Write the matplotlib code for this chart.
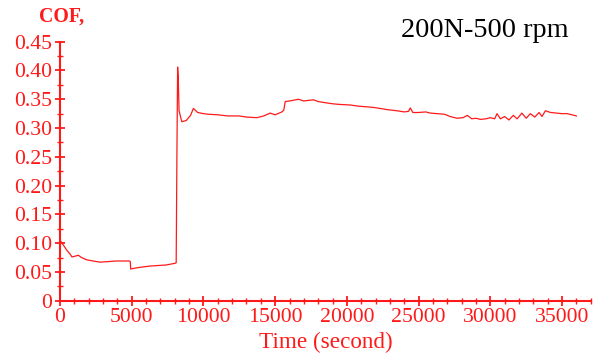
import matplotlib.pyplot as plt
from matplotlib.ticker import MultipleLocator

# Datos (tiempo en s, COF)
time_s = [0, 200, 465, 700, 840, 1000, 1280, 1500, 1860, 2300, 2790, 3400, 3950, 4500, 4840, 4900,
          4930, 5100, 5580, 6200, 6750, 7400, 8020, 8100, 8150, 8200, 8240, 8300, 8490, 8800,
          9100, 9300, 9600, 10000, 10330, 11000, 11700, 12500, 13000, 13730, 14200, 14650, 15000,
          15470, 15600, 15700, 16000, 16630, 17000, 17300, 17680, 18000, 18500, 19050, 19500,
          20240, 20800, 21300, 21800, 22330, 22800, 23500, 24000, 24300, 24420, 24600, 25000,
          25500, 25800, 26290, 26800, 27200, 27680, 28100, 28400, 28700, 29000, 29310, 29700,
          30000, 30300, 30470, 30700, 31000, 31300, 31600, 31870, 32200, 32500, 32790, 33100,
          33400, 33600, 33840, 34200, 34600, 35000, 35350, 35700, 36000]
cof = [0.105, 0.098, 0.088, 0.081, 0.076, 0.077, 0.079, 0.075, 0.071, 0.069, 0.067, 0.068, 0.069, 0.069, 0.069, 0.068,
       0.055, 0.056, 0.058, 0.060, 0.061, 0.062, 0.065, 0.066, 0.25, 0.406, 0.39, 0.33, 0.311, 0.313,
       0.322, 0.334, 0.327, 0.325, 0.324, 0.323, 0.321, 0.321, 0.319, 0.318, 0.321, 0.326, 0.323,
       0.328, 0.331, 0.346, 0.347, 0.350, 0.347, 0.348, 0.349, 0.346, 0.344, 0.342, 0.341,
       0.340, 0.338, 0.337, 0.336, 0.334, 0.332, 0.330, 0.328, 0.329, 0.335, 0.327, 0.327,
       0.328, 0.326, 0.325, 0.324, 0.320, 0.317, 0.318, 0.322, 0.316, 0.317, 0.315, 0.316,
       0.318, 0.316, 0.325, 0.316, 0.320, 0.314, 0.322, 0.316, 0.326, 0.317, 0.325, 0.319,
       0.327, 0.320, 0.330, 0.327, 0.326, 0.325, 0.325, 0.323, 0.321]

rojo = '#ff1a1a'

plt.rcParams['font.family'] = 'Liberation Serif'
fig = plt.figure(figsize=(5.97, 3.57), dpi=100)
ax = fig.add_axes([0.1005, 0.1577, 0.889, 0.7255])

ax.plot(time_s, cof, color=rojo, linewidth=0.9)

ax.set_xlim(0, 37000)
ax.set_ylim(0, 0.45)
ax.xaxis.set_minor_locator(MultipleLocator(1000))
ax.yaxis.set_minor_locator(MultipleLocator(0.025))
ax.set_xticks(range(0, 36000, 5000))
ax.set_yticks([i * 0.05 for i in range(10)])
ax.set_yticklabels(['0'] + ['%.2f' % (i * 0.05) for i in range(1, 10)])

for s in ['top', 'right']:
    ax.spines[s].set_visible(False)
for s in ['left', 'bottom']:
    ax.spines[s].set_color(rojo)
    ax.spines[s].set_linewidth(1.5)

ax.tick_params(which='major', direction='inout', length=7, width=1.3, colors=rojo, labelsize=15.7, pad=2)
ax.tick_params(which='minor', direction='inout', length=4, width=1, colors=rojo)

ax.set_xlabel('Time (second)', color=rojo, fontsize=16.7, labelpad=3)
fig.text(61.5 / 597, 1 - 21.7 / 357, 'COF,', color=rojo, fontsize=14.3, fontweight='bold', ha='center', va='baseline')
fig.text(485 / 597, 1 - 37.3 / 357, '200N-500 rpm', color='black', fontsize=20.3, ha='center', va='baseline')

plt.savefig('out.png', dpi=100)
